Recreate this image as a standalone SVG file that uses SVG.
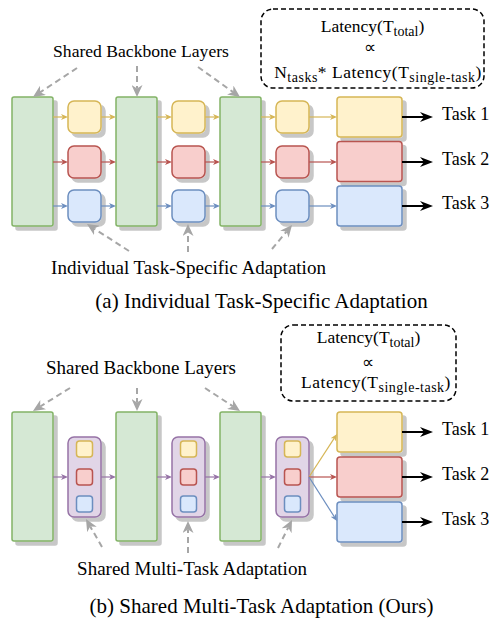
<svg xmlns="http://www.w3.org/2000/svg" width="493" height="620" viewBox="0 0 493 620">
<style>
.t{font-family:"Liberation Serif","Times New Roman",serif;fill:#000}
.g{fill:#d5e8d4;stroke:#82b366;stroke-width:1.5}
.y{fill:#fff2cc;stroke:#d6b656;stroke-width:1.5}
.r{fill:#f8cecc;stroke:#b85450;stroke-width:1.5}
.b{fill:#dae8fc;stroke:#6c8ebf;stroke-width:1.5}
.p{fill:#e1d5e7;stroke:#9673a6;stroke-width:1.5}
.sh{filter:url(#shd)}
.lat{fill:none;stroke:#000;stroke-width:1.5;stroke-dasharray:5 3}
.dg{fill:none;stroke:#a6a6a6;stroke-width:2;stroke-dasharray:6 4;marker-end:url(#mg)}
.ak{stroke:#000;stroke-width:2;marker-end:url(#mk)}
.ay{fill:none;stroke:#d6b656;stroke-width:1.2;marker-end:url(#my)}
.ar{fill:none;stroke:#b85450;stroke-width:1.2;marker-end:url(#mr)}
.ab{fill:none;stroke:#6c8ebf;stroke-width:1.2;marker-end:url(#mb)}
.ap{fill:none;stroke:#9673a6;stroke-width:1.2;marker-end:url(#mp)}
.ls{letter-spacing:0.5px}
</style>
<defs>
<filter id="shd" x="-20%" y="-20%" width="150%" height="150%">
<feGaussianBlur in="SourceAlpha" stdDeviation="0.7"/>
<feOffset dx="4" dy="4" result="o"/>
<feFlood flood-color="#000" flood-opacity="0.22"/>
<feComposite in2="o" operator="in"/>
<feMerge><feMergeNode/><feMergeNode in="SourceGraphic"/></feMerge>
</filter>
<marker id="mk" viewBox="0 0 13 10" refX="4" refY="5" markerWidth="13" markerHeight="10" markerUnits="userSpaceOnUse" orient="auto"><path d="M0,0L13,5L0,10L4,5Z" fill="#000"/></marker>
<marker id="mg" viewBox="0 0 12 11" refX="3.5" refY="5.5" markerWidth="12" markerHeight="11" markerUnits="userSpaceOnUse" orient="auto"><path d="M0,0L12,5.5L0,11L3.5,5.5Z" fill="#a6a6a6"/></marker>
<marker id="my" viewBox="0 0 7 6" refX="2" refY="3" markerWidth="7" markerHeight="6" markerUnits="userSpaceOnUse" orient="auto"><path d="M0,0L7,3L0,6L2,3Z" fill="#d6b656"/></marker>
<marker id="mr" viewBox="0 0 7 6" refX="2" refY="3" markerWidth="7" markerHeight="6" markerUnits="userSpaceOnUse" orient="auto"><path d="M0,0L7,3L0,6L2,3Z" fill="#b85450"/></marker>
<marker id="mb" viewBox="0 0 7 6" refX="2" refY="3" markerWidth="7" markerHeight="6" markerUnits="userSpaceOnUse" orient="auto"><path d="M0,0L7,3L0,6L2,3Z" fill="#6c8ebf"/></marker>
<marker id="mp" viewBox="0 0 7 6" refX="2" refY="3" markerWidth="7" markerHeight="6" markerUnits="userSpaceOnUse" orient="auto"><path d="M0,0L7,3L0,6L2,3Z" fill="#9673a6"/></marker>
</defs>

<!-- ===== Panel (a) ===== -->
<g id="a-backbone-1"><rect class="g sh" x="12" y="97" width="41" height="129" rx="2"/></g>
<g id="a-backbone-2"><rect class="g sh" x="116" y="97" width="41" height="129" rx="2"/></g>
<g id="a-backbone-3"><rect class="g sh" x="220" y="97" width="41" height="129" rx="2"/></g>

<g id="a-adapt-y1"><rect class="y sh" x="68" y="101" width="33" height="32" rx="6"/></g>
<g id="a-adapt-r1"><rect class="r sh" x="68" y="146" width="33" height="32" rx="6"/></g>
<g id="a-adapt-b1"><rect class="b sh" x="68" y="190" width="33" height="32" rx="6"/></g>
<g id="a-adapt-y2"><rect class="y sh" x="172" y="101" width="33" height="32" rx="6"/></g>
<g id="a-adapt-r2"><rect class="r sh" x="172" y="146" width="33" height="32" rx="6"/></g>
<g id="a-adapt-b2"><rect class="b sh" x="172" y="190" width="33" height="32" rx="6"/></g>
<g id="a-adapt-y3"><rect class="y sh" x="276" y="101" width="33" height="32" rx="6"/></g>
<g id="a-adapt-r3"><rect class="r sh" x="276" y="146" width="33" height="32" rx="6"/></g>
<g id="a-adapt-b3"><rect class="b sh" x="276" y="190" width="33" height="32" rx="6"/></g>

<g id="a-head-1"><rect class="y sh" x="337" y="97" width="65" height="40" rx="3"/></g>
<g id="a-head-2"><rect class="r sh" x="337" y="141.5" width="65" height="40" rx="3"/></g>
<g id="a-head-3"><rect class="b sh" x="337" y="186" width="65" height="40" rx="3"/></g>

<g id="a-task-1"><text class="t" x="442" y="119.5" font-size="18">Task 1</text></g>
<g id="a-task-2"><text class="t" x="442" y="164.5" font-size="18">Task 2</text></g>
<g id="a-task-3"><text class="t" x="442" y="208.5" font-size="18">Task 3</text></g>

<g id="a-label-backbone"><text class="t" x="141" y="57" font-size="17.6" text-anchor="middle">Shared Backbone Layers</text></g>
<g id="a-label-adapt"><text class="t" x="188.5" y="274" font-size="19" text-anchor="middle">Individual Task-Specific Adaptation</text></g>

<g id="a-latency">
<rect class="lat" x="261" y="9" width="223" height="79" rx="12"/>
<text class="t" x="372.5" y="32" font-size="17.5" text-anchor="middle">Latency(T<tspan font-size="14" dy="4">total</tspan><tspan dy="-4">)</tspan></text>
<text class="t" x="370" y="53" font-size="17" text-anchor="middle">∝</text>
<text class="t ls" x="378" y="77.5" font-size="17.5" text-anchor="middle">N<tspan font-size="14" dy="4">tasks</tspan><tspan dy="-4">* Latency(T</tspan><tspan font-size="14" dy="4">single-task</tspan><tspan dy="-4">)</tspan></text>
</g>

<g id="a-caption"><text class="t" x="261.5" y="308" font-size="21" text-anchor="middle">(a) Individual Task-Specific Adaptation</text></g>

<!-- ===== Panel (b) ===== -->
<g id="b-backbone-1"><rect class="g sh" x="12" y="412" width="41" height="129" rx="2"/></g>
<g id="b-backbone-2"><rect class="g sh" x="116" y="412" width="41" height="129" rx="2"/></g>
<g id="b-backbone-3"><rect class="g sh" x="220" y="412" width="41" height="129" rx="2"/></g>

<g id="b-shared-1">
<rect class="p sh" x="68" y="437" width="33" height="80" rx="6"/>
<rect class="y" x="76.5" y="441" width="16" height="16" rx="3"/>
<rect class="r" x="76.5" y="469" width="16" height="16" rx="3"/>
<rect class="b" x="76.5" y="496" width="16" height="16" rx="3"/>
</g>
<g id="b-shared-2">
<rect class="p sh" x="172" y="437" width="33" height="80" rx="6"/>
<rect class="y" x="180.5" y="441" width="16" height="16" rx="3"/>
<rect class="r" x="180.5" y="469" width="16" height="16" rx="3"/>
<rect class="b" x="180.5" y="496" width="16" height="16" rx="3"/>
</g>
<g id="b-shared-3">
<rect class="p sh" x="276" y="437" width="33" height="80" rx="6"/>
<rect class="y" x="284.5" y="441" width="16" height="16" rx="3"/>
<rect class="r" x="284.5" y="469" width="16" height="16" rx="3"/>
<rect class="b" x="284.5" y="496" width="16" height="16" rx="3"/>
</g>

<g id="b-head-1"><rect class="y sh" x="337" y="412" width="65" height="40" rx="3"/></g>
<g id="b-head-2"><rect class="r sh" x="337" y="457" width="65" height="40" rx="3"/></g>
<g id="b-head-3"><rect class="b sh" x="337" y="502" width="65" height="40" rx="3"/></g>

<g id="b-task-1"><text class="t" x="442" y="434.5" font-size="18">Task 1</text></g>
<g id="b-task-2"><text class="t" x="442" y="479.5" font-size="18">Task 2</text></g>
<g id="b-task-3"><text class="t" x="442" y="524.5" font-size="18">Task 3</text></g>

<g id="b-label-backbone"><text class="t" x="141" y="374" font-size="19" text-anchor="middle">Shared Backbone Layers</text></g>
<g id="b-label-adapt"><text class="t" x="192" y="575" font-size="19" text-anchor="middle">Shared Multi-Task Adaptation</text></g>

<g id="b-latency">
<rect class="lat" x="281" y="325" width="175" height="76" rx="12"/>
<text class="t" x="368.5" y="343" font-size="17.5" text-anchor="middle">Latency(T<tspan font-size="14" dy="4">total</tspan><tspan dy="-4">)</tspan></text>
<text class="t" x="367.5" y="368" font-size="17" text-anchor="middle">∝</text>
<text class="t ls" x="376" y="388" font-size="17.5" text-anchor="middle">Latency(T<tspan font-size="14" dy="4">single-task</tspan><tspan dy="-4">)</tspan></text>
</g>

<g id="b-caption"><text class="t" x="261.5" y="613" font-size="21" text-anchor="middle">(b) Shared Multi-Task Adaptation (Ours)</text></g>

<!-- ===== Connectors ===== -->
<g id="connectors">
<path class="dg" d="M77,68L40.1,92.3"/>
<path class="dg" d="M137,66L137,88.5"/>
<path class="dg" d="M198,67L233.1,92.1"/>
<path class="dg" d="M129,251L94.1,228.6"/>
<path class="dg" d="M188,252L188,232.5"/>
<path class="dg" d="M272,249L286.6,231.5"/>
<path class="ay" d="M53,117H63"/><path class="ay" d="M101,117H111"/><path class="ay" d="M157,117H167"/><path class="ay" d="M205,117H215"/><path class="ay" d="M261,117H271"/><path class="ay" d="M309,117H332"/>
<path class="ar" d="M53,162H63"/><path class="ar" d="M101,162H111"/><path class="ar" d="M157,162H167"/><path class="ar" d="M205,162H215"/><path class="ar" d="M261,162H271"/><path class="ar" d="M309,162H332"/>
<path class="ab" d="M53,206H63"/><path class="ab" d="M101,206H111"/><path class="ab" d="M157,206H167"/><path class="ab" d="M205,206H215"/><path class="ab" d="M261,206H271"/><path class="ab" d="M309,206H332"/>
<path class="ak" d="M402,117H424"/>
<path class="ak" d="M402,162H424"/>
<path class="ak" d="M402,206H424"/>
<path class="dg" d="M70,388L40.2,406.5"/>
<path class="dg" d="M137,388L137,402.5"/>
<path class="dg" d="M205,388L232.9,406.3"/>
<path class="dg" d="M102,547L90.2,526.4"/>
<path class="dg" d="M188,553L188,529.5"/>
<path class="dg" d="M278,548L288.2,527.6"/>
<path class="ap" d="M53,477H63"/><path class="ap" d="M101,477H111"/><path class="ap" d="M157,477H167"/><path class="ap" d="M205,477H215"/><path class="ap" d="M261,477H271"/>
<path class="ay" d="M309,477L334.3,438.2"/>
<path class="ar" d="M309,477H332"/>
<path class="ab" d="M309,477L334.3,516.8"/>
<path class="ak" d="M402,432H424"/>
<path class="ak" d="M402,477H424"/>
<path class="ak" d="M402,522H424"/>
</g>
</svg>
